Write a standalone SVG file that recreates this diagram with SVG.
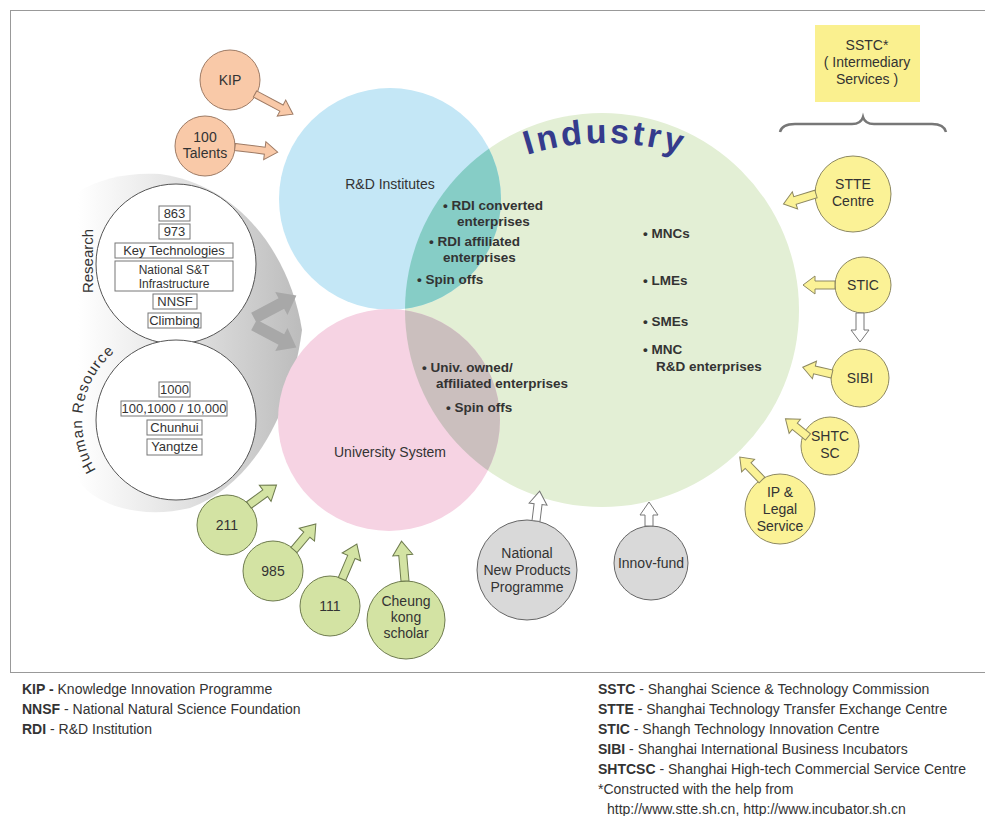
<svg xmlns="http://www.w3.org/2000/svg" width="985" height="816" viewBox="0 0 985 816">
<defs>
<style>
text{font-family:"Liberation Sans",Arial,sans-serif;fill:#333;}
.lbl{font-size:14px;text-anchor:middle;}
.box{fill:#fff;stroke:#777;stroke-width:1;}
.bx{font-size:13px;text-anchor:middle;}
.bx2{font-size:12px;text-anchor:middle;}
.b{font-size:13.5px;font-weight:bold;}
.leg{font-size:14px;}
.orange{fill:#f9c9a8;stroke:#9e7b65;stroke-width:1;}
.green{fill:#d3e3a3;stroke:#6e7b4e;stroke-width:1;}
.yellow{fill:#fbf296;stroke:#8d8860;stroke-width:1;}
.grayc{fill:#d9d9d9;stroke:#666;stroke-width:1;}
.hollow{fill:#fff;stroke:#777;stroke-width:1;}
.bigarrow{fill:#a8a8a8;}
</style>
<linearGradient id="sweep" x1="0" y1="0" x2="1" y2="0">
<stop offset="0" stop-color="#ffffff"/>
<stop offset="0.5" stop-color="#e0e0e0"/>
<stop offset="1" stop-color="#bcbcbc"/>
</linearGradient>
<clipPath id="clipBlue"><circle cx="390" cy="199" r="111"/></clipPath>
<clipPath id="clipPink"><circle cx="389" cy="420" r="111"/></clipPath>
<path id="indArc" d="M 348,400 A 257 257 0 0 1 862,400"/>
<path id="hrArc" d="M 96,470 A 91 91 0 0 1 131,341"/>
</defs>
<rect x="10.5" y="10.5" width="980" height="662" fill="#fff" stroke="#999" stroke-width="1"/>

<g id="sweep-shape">
<path d="M 78,192 C 100,178 130,172 160,174 C 240,185 290,255 302,330 C 290,420 250,485 190,508 C 140,520 95,505 78,480 Z" fill="url(#sweep)"/>
</g>

<g id="industry">
<circle cx="602" cy="310" r="197" fill="#e3efd5"/>
<text font-size="34" font-weight="bold" letter-spacing="3" style="fill:#353b8c;text-anchor:middle"><textPath href="#indArc" startOffset="50%">Industry</textPath></text>
</g>
<g id="rd-institutes">
<circle cx="390" cy="199" r="111" fill="#c4e7f6"/>
<circle cx="602" cy="310" r="197" fill="#86cdc6" clip-path="url(#clipBlue)"/>
<text class="lbl" x="390" y="189">R&amp;D Institutes</text>
</g>
<g id="university">
<circle cx="389" cy="420" r="111" fill="#f6d3e3"/>
<circle cx="602" cy="310" r="197" fill="#cbbfbe" clip-path="url(#clipPink)"/>
<text class="lbl" x="390" y="457">University System</text>
</g>

<g id="bullets">
<text class="b" x="443" y="210">• RDI converted</text>
<text class="b" x="457" y="226">enterprises</text>
<text class="b" x="429" y="246">• RDI affiliated</text>
<text class="b" x="443" y="262">enterprises</text>
<text class="b" x="417" y="284">• Spin offs</text>
<text class="b" x="643" y="238">• MNCs</text>
<text class="b" x="643" y="285">• LMEs</text>
<text class="b" x="643" y="326">• SMEs</text>
<text class="b" x="643" y="354">• MNC</text>
<text class="b" x="656" y="371">R&amp;D enterprises</text>
<text class="b" x="422" y="372">• Univ. owned/</text>
<text class="b" x="436" y="388">affiliated enterprises</text>
<text class="b" x="446" y="412">• Spin offs</text>
</g>

<g id="research">
<circle cx="176" cy="264" r="80" fill="#fff" stroke="#555" stroke-width="1"/>
<text font-size="15" transform="translate(93,261) rotate(-90)" style="text-anchor:middle">Research</text>
<rect class="box" x="159" y="206" width="31" height="15"/><text class="bx" x="174.5" y="218">863</text>
<rect class="box" x="159" y="224" width="31" height="15"/><text class="bx" x="174.5" y="236">973</text>
<rect class="box" x="115" y="243" width="118" height="15"/><text class="bx" x="174" y="255">Key Technologies</text>
<rect class="box" x="115" y="261" width="118" height="30"/><text class="bx2" x="174" y="274">National S&amp;T</text><text class="bx2" x="174" y="288">Infrastructure</text>
<rect class="box" x="153" y="294" width="44" height="15"/><text class="bx" x="175" y="306">NNSF</text>
<rect class="box" x="148" y="313" width="53" height="15"/><text class="bx" x="174.5" y="325">Climbing</text>
</g>
<g id="human-resource">
<circle cx="176" cy="420" r="80" fill="#fff" stroke="#555" stroke-width="1"/>
<text font-size="15" letter-spacing="1"><textPath href="#hrArc">Human Resource</textPath></text>
<rect class="box" x="159" y="382" width="31" height="15"/><text class="bx" x="174.5" y="394">1000</text>
<rect class="box" x="121" y="401" width="106" height="15"/><text class="bx" x="174" y="413">100,1000 / 10,000</text>
<rect class="box" x="147" y="420" width="55" height="15"/><text class="bx" x="174.5" y="432">Chunhui</text>
<rect class="box" x="147" y="439" width="55" height="16"/><text class="bx" x="174.5" y="451">Yangtze</text>
</g>

<g id="kip"><circle class="orange" cx="230" cy="80" r="30"/><text class="lbl" x="230" y="85">KIP</text></g>
<g id="talents"><circle class="orange" cx="205" cy="146" r="30"/><text class="lbl" x="205" y="142">100</text><text class="lbl" x="205" y="158">Talents</text></g>

<g id="n211"><circle class="green" cx="227" cy="525" r="30"/><text class="lbl" x="227" y="530">211</text></g>
<g id="n985"><circle class="green" cx="273" cy="571" r="30"/><text class="lbl" x="273" y="576">985</text></g>
<g id="n111"><circle class="green" cx="330" cy="606" r="30"/><text class="lbl" x="330" y="611">111</text></g>
<g id="cheung"><circle class="green" cx="406" cy="620" r="39"/><text class="lbl" x="406" y="606">Cheung</text><text class="lbl" x="406" y="622">kong</text><text class="lbl" x="406" y="638">scholar</text></g>

<g id="nnp"><circle class="grayc" cx="527" cy="570" r="50"/><text class="lbl" x="527" y="558">National</text><text class="lbl" x="527" y="575">New Products</text><text class="lbl" x="527" y="592">Programme</text></g>
<g id="innov"><circle class="grayc" cx="651" cy="563" r="37"/><text class="lbl" x="651" y="568">Innov-fund</text></g>

<g id="sstc">
<rect x="815" y="25" width="105" height="77" fill="#faf08f"/>
<text class="lbl" x="867" y="50">SSTC*</text>
<text class="lbl" x="867" y="67">( Intermediary</text>
<text class="lbl" x="867" y="84">Services )</text>
<path d="M 780,132 Q 782,124 795,124 L 852,124 Q 861,124 863,117 Q 865,124 874,124 L 932,124 Q 944,124 946,132" fill="none" stroke="#777" stroke-width="2.5"/>
</g>
<g id="stte"><circle class="yellow" cx="853" cy="194" r="38"/><text class="lbl" x="853" y="189">STTE</text><text class="lbl" x="853" y="206">Centre</text></g>
<g id="stic"><circle class="yellow" cx="863" cy="285" r="28"/><text class="lbl" x="863" y="290">STIC</text></g>
<g id="sibi"><circle class="yellow" cx="860" cy="378" r="29"/><text class="lbl" x="860" y="383">SIBI</text></g>
<g id="shtcsc"><circle class="yellow" cx="830" cy="446" r="29"/><text class="lbl" x="830" y="441">SHTC</text><text class="lbl" x="830" y="458">SC</text></g>
<g id="ip"><circle class="yellow" cx="780" cy="509" r="35"/><text class="lbl" x="780" y="497">IP &amp;</text><text class="lbl" x="780" y="514">Legal</text><text class="lbl" x="780" y="531">Service</text></g>

<g id="connectors">
<polygon class="bigarrow" transform="translate(254,318) rotate(-28)" points="0,-6 31,-6 31,-13 48,0 31,13 31,6 0,6"/>
<polygon class="bigarrow" transform="translate(254,325) rotate(28)" points="0,-6 31,-6 31,-13 48,0 31,13 31,6 0,6"/>
<polygon class="orange" transform="translate(255,94) rotate(28)" points="0,-3.5 30,-3.5 30,-9 43,0 30,9 30,3.5 0,3.5"/>
<polygon class="orange" transform="translate(235,147) rotate(7)" points="0,-3.5 30,-3.5 30,-9 43,0 30,9 30,3.5 0,3.5"/>
<polygon class="green" transform="translate(249,505) rotate(-36)" points="0,-4 20,-4 20,-10 34,0 20,10 20,4 0,4"/>
<polygon class="green" transform="translate(294,550) rotate(-50)" points="0,-4 20,-4 20,-10 34,0 20,10 20,4 0,4"/>
<polygon class="green" transform="translate(342,579) rotate(-67)" points="0,-4 24,-4 24,-10 38,0 24,10 24,4 0,4"/>
<polygon class="green" transform="translate(405,581) rotate(-95)" points="0,-4 26,-4 26,-10 40,0 26,10 26,4 0,4"/>
<polygon class="hollow" transform="translate(536,521) rotate(-83)" points="0,-4 17,-4 17,-9 30,0 17,9 17,4 0,4"/>
<polygon class="hollow" transform="translate(649,526) rotate(-90)" points="0,-4 11,-4 11,-9 24,0 11,9 11,4 0,4"/>
<polygon class="yellow" transform="translate(816,194) rotate(163)" points="0,-4 22,-4 22,-9 34,0 22,9 22,4 0,4"/>
<polygon class="yellow" transform="translate(835,285) rotate(180)" points="0,-4 20,-4 20,-9 32,0 20,9 20,4 0,4"/>
<polygon class="hollow" transform="translate(860,313) rotate(90)" points="0,-4 17,-4 17,-9 29,0 17,9 17,4 0,4"/>
<polygon class="yellow" transform="translate(832,374) rotate(-167)" points="0,-4 18,-4 18,-9 30,0 18,9 18,4 0,4"/>
<polygon class="yellow" transform="translate(808,437) rotate(-141)" points="0,-4 17,-4 17,-9 29,0 17,9 17,4 0,4"/>
<polygon class="yellow" transform="translate(762,480) rotate(-134)" points="0,-4 20,-4 20,-9 32,0 20,9 20,4 0,4"/>
</g>

<g id="legend-left">
<text class="leg" x="22" y="694"><tspan font-weight="bold">KIP -</tspan> Knowledge Innovation Programme</text>
<text class="leg" x="22" y="714"><tspan font-weight="bold">NNSF</tspan> - National Natural Science Foundation</text>
<text class="leg" x="22" y="734"><tspan font-weight="bold">RDI</tspan> - R&amp;D Institution</text>
</g>
<g id="legend-right">
<text class="leg" x="598" y="694"><tspan font-weight="bold">SSTC</tspan> - Shanghai Science &amp; Technology Commission</text>
<text class="leg" x="598" y="714"><tspan font-weight="bold">STTE</tspan> - Shanghai Technology Transfer Exchange Centre</text>
<text class="leg" x="598" y="734"><tspan font-weight="bold">STIC</tspan> - Shangh Technology Innovation Centre</text>
<text class="leg" x="598" y="754"><tspan font-weight="bold">SIBI</tspan> - Shanghai International Business Incubators</text>
<text class="leg" x="598" y="774"><tspan font-weight="bold">SHTCSC</tspan> - Shanghai High-tech Commercial Service Centre</text>
<text class="leg" x="598" y="794">*Constructed with the help from</text>
<text class="leg" x="607" y="814">http://www.stte.sh.cn, http://www.incubator.sh.cn</text>
</g>
</svg>
